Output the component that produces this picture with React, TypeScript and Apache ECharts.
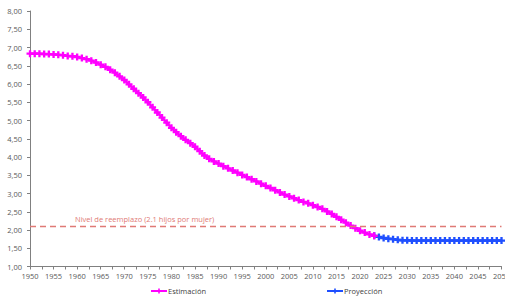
import React, { useEffect, useRef } from "react";
import * as echarts from "echarts";

const estYears: number[] = [];
for (let y = 1950; y <= 2023; y++) estYears.push(y);
const estimacion = [
  6.83, 6.83, 6.83, 6.82, 6.82, 6.81, 6.8, 6.79, 6.77, 6.76,
  6.74, 6.71, 6.68, 6.64, 6.59, 6.53, 6.47, 6.39, 6.31, 6.21,
  6.11, 5.99, 5.87, 5.75, 5.63, 5.5, 5.36, 5.22, 5.08, 4.94,
  4.8, 4.68, 4.57, 4.47, 4.38, 4.28, 4.16, 4.04, 3.95, 3.88,
  3.82, 3.75, 3.69, 3.63, 3.57, 3.51, 3.45, 3.39, 3.33, 3.27,
  3.21, 3.15, 3.09, 3.03, 2.97, 2.92, 2.87, 2.82, 2.77, 2.73,
  2.68, 2.63, 2.58, 2.51, 2.44, 2.36, 2.28, 2.2, 2.12, 2.05,
  1.98, 1.93, 1.88, 1.84,
];
const projYears: number[] = [];
for (let y = 2023; y <= 2050; y++) projYears.push(y);
const proyeccion = [
  1.84, 1.81, 1.78, 1.76, 1.75, 1.73, 1.72, 1.72, 1.71, 1.71,
  1.71, 1.71, 1.71, 1.71, 1.71, 1.71, 1.71, 1.71, 1.71, 1.71,
  1.71, 1.71, 1.71, 1.71, 1.71, 1.71, 1.71, 1.71,
];
const nivelReemplazo = 2.1;
const nivelLabel = "Nivel de reemplazo (2.1 hijos por mujer)";
const yMin = 1;
const yMax = 8;
const xMin = 1950;
const xMax = 2050;

const plus = "path://M2,0H4V2H6V4H4V6H2V4H0V2H2Z";
const font = "'Open Sans', 'DejaVu Sans', sans-serif";

export default function App() {
  const ref = useRef<HTMLDivElement>(null);
  useEffect(() => {
    if (!ref.current) return;
    const chart = echarts.init(ref.current, undefined, { renderer: "svg" });
    chart.setOption({
      animation: false,
      backgroundColor: "#ffffff",
      grid: { left: 30, right: 3.5, top: 11, bottom: 32.5, containLabel: false, outerBoundsMode: "none" },
      legend: [
        {
          data: ["Estimación"],
          left: 150,
          top: 287,
          itemWidth: 16,
          itemHeight: 6,
          padding: 0,
          textStyle: { fontSize: 7.5, color: "#404040", fontFamily: font, padding: [0, 0, 0, -4] },
        },
        {
          data: ["Proyección"],
          left: 326,
          top: 287,
          itemWidth: 16,
          itemHeight: 6,
          padding: 0,
          textStyle: { fontSize: 7.5, color: "#404040", fontFamily: font, padding: [0, 0, 0, -4] },
        },
      ],
      xAxis: {
        type: "value",
        min: xMin,
        max: xMax,
        interval: 5,
        axisLine: { lineStyle: { color: "#808080", width: 1 } },
        axisTick: { show: true, length: 3, lineStyle: { color: "#808080" } },
        minorTick: { show: true, splitNumber: 2, length: 3, lineStyle: { color: "#808080" } },
        splitLine: { show: false },
        axisLabel: {
          color: "#595959",
          fontSize: 7.5,
          fontFamily: font,
          margin: 5,
          formatter: (v: number) => String(v),
        },
      },
      yAxis: {
        type: "value",
        min: yMin,
        max: yMax,
        interval: 0.5,
        axisLine: { show: true, lineStyle: { color: "#808080", width: 1 } },
        axisTick: { show: true, length: 3, lineStyle: { color: "#808080" } },
        splitLine: { show: false },
        axisLabel: {
          color: "#595959",
          fontSize: 7.5,
          fontFamily: font,
          margin: 8,
          formatter: (v: number) => v.toFixed(2).replace(".", ","),
        },
      },
      series: [
        {
          name: "Estimación",
          type: "line",
          data: estYears.map((y, i) => [y, estimacion[i]]),
          color: "#FF00FF",
          lineStyle: { width: 2.5, color: "#FF00FF" },
          symbol: plus,
          symbolSize: 7,
          itemStyle: { color: "#FF00FF" },
          z: 3,
          markLine: {
            silent: true,
            symbol: "none",
            lineStyle: { type: [6, 4], color: "#E07A76", width: 1.3 },
            label: {
              show: true,
              position: "insideStartTop",
              formatter: nivelLabel,
              color: "#E07A76",
              fontSize: 7.5,
              fontFamily: font,
              distance: 3,
              padding: [0, 0, 0, 42],
            },
            data: [{ yAxis: nivelReemplazo }],
          },
        },
        {
          name: "Proyección",
          type: "line",
          data: projYears.map((y, i) => [y, proyeccion[i]]),
          color: "#1F4FFF",
          lineStyle: { width: 2.5, color: "#1F4FFF" },
          symbol: plus,
          symbolSize: 7,
          itemStyle: { color: "#1F4FFF" },
          z: 2,
        },
      ],
    });
    return () => chart.dispose();
  }, []);
  return <div ref={ref} style={{ width: 505, height: 299, position: "absolute", left: 0, top: 0 }} />;
}
